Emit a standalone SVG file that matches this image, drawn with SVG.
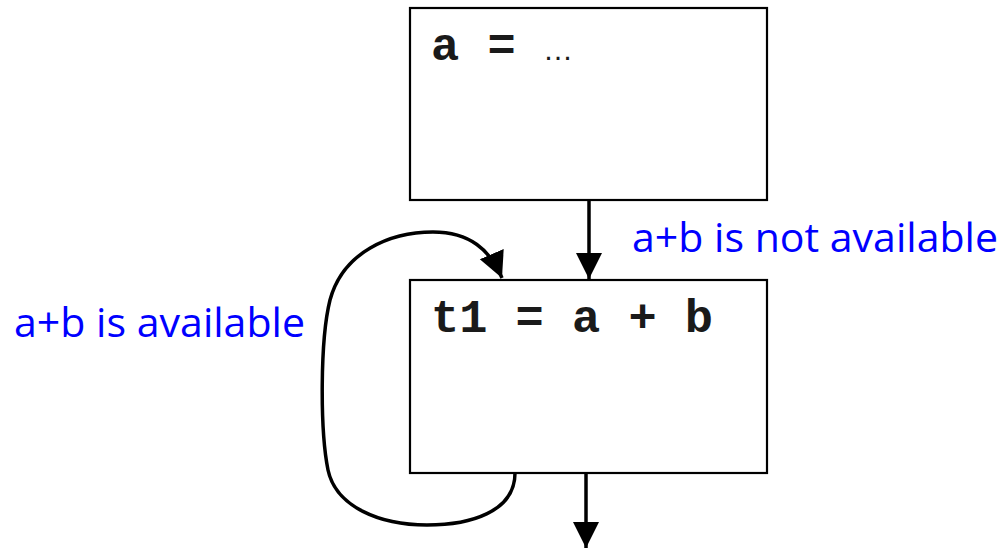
<svg xmlns="http://www.w3.org/2000/svg" width="1006" height="549" viewBox="0 0 1006 549">
<style>
.box{fill:#fff;stroke:#000;stroke-width:2.2}
.code{font-family:"Liberation Mono","Courier New",monospace;font-weight:bold;font-size:47px;fill:#1a1a1a}
.dots{font-family:"Liberation Sans",Arial,sans-serif;font-size:30px;fill:#1a1a1a}
.lbl{font-family:"Open Sans","Noto Sans",sans-serif;font-size:41px;fill:#0000ff}
.edge{fill:none;stroke:#000;stroke-width:3.5}
</style>
<defs>
<marker id="ah" markerWidth="26" markerHeight="28" refX="26" refY="13" orient="auto" markerUnits="userSpaceOnUse">
<path d="M0,0 L26,13 L0,26 Z" fill="#000"/>
</marker>
</defs>
<g id="n1">
<rect class="box" x="410" y="8" width="357" height="192"/>
<text class="code" x="431" y="60">a =</text>
<text class="dots" x="543" y="60">…</text>
</g>
<g id="n2">
<rect class="box" x="410" y="280" width="357" height="193"/>
<text class="code" x="431" y="332">t1 = a + b</text>
</g>
<g id="connectors">
<path class="edge" d="M589,200 L589,279" marker-end="url(#ah)"/>
<path class="edge" d="M586,473 L586,548" marker-end="url(#ah)"/>
<path class="edge" d="M515,473 C515,512 470,525 427,525 C380,525 336,507 328,470 C320,430 320,340 330,300 C343,252 390,232 433,232 C470,232 490,250 502,278" marker-end="url(#ah)"/>
</g>
<text class="lbl" x="14" y="337" textLength="291" lengthAdjust="spacingAndGlyphs">a+b is available</text>
<text class="lbl" x="632" y="252" textLength="366" lengthAdjust="spacingAndGlyphs">a+b is not available</text>
</svg>
